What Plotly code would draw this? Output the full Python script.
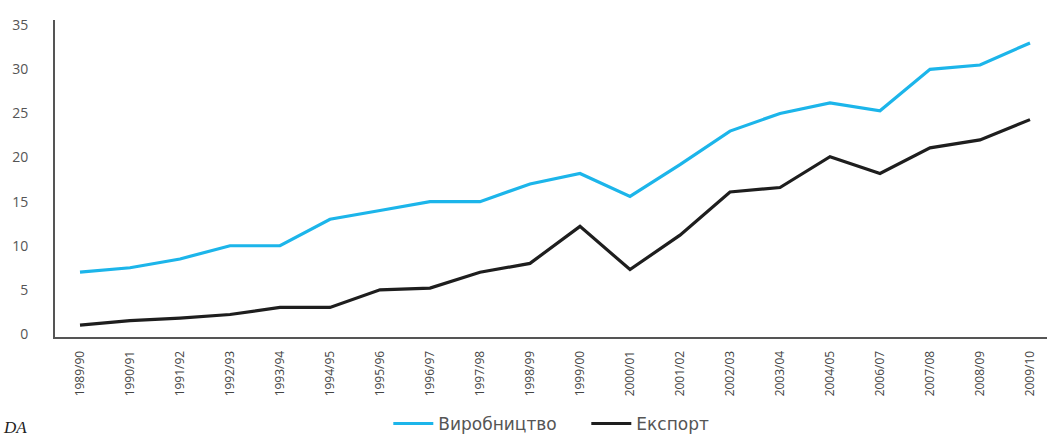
import plotly.graph_objects as go

seasons = ["1989/90", "1990/91", "1991/92", "1992/93", "1993/94", "1994/95",
           "1995/96", "1996/97", "1997/98", "1998/99", "1999/00", "2000/01",
           "2001/02", "2002/03", "2003/04", "2004/05", "2006/07", "2007/08",
           "2008/09", "2009/10"]
production = [7.0, 7.5, 8.5, 10.0, 10.0, 13.0, 14.0, 15.0, 15.0, 17.0, 18.2, 15.6,
              19.2, 23.0, 25.0, 26.2, 25.3, 30.0, 30.5, 33.0]
export = [1.0, 1.5, 1.8, 2.2, 3.0, 3.0, 5.0, 5.2, 7.0, 8.0, 12.2, 7.3,
          11.2, 16.1, 16.6, 20.1, 18.2, 21.1, 22.0, 24.3]
series_names = ["Виробництво", "Експорт"]
tick_vals = [0, 5, 10, 15, 20, 25, 30, 35]

fig = go.Figure()
fig.add_trace(go.Scatter(x=list(range(len(seasons))), y=production, mode="lines",
                         name=series_names[0], line=dict(color="#1cb5ea", width=3.2)))
fig.add_trace(go.Scatter(x=list(range(len(seasons))), y=export, mode="lines",
                         name=series_names[1], line=dict(color="#1e1e1e", width=3.2)))

fig.update_layout(
    width=1047, height=442,
    margin=dict(l=55, r=0, t=20, b=105),
    paper_bgcolor="white", plot_bgcolor="white",
    font=dict(family="Open Sans, DejaVu Sans, sans-serif", color="#555555"),
    showlegend=True,
    legend=dict(orientation="h", x=0.336, xanchor="left", y=-0.331, yanchor="bottom",
                font=dict(size=17, color="#555555", family="DejaVu Sans, sans-serif"),
                itemwidth=40, tracegroupgap=0, bgcolor="rgba(0,0,0,0)",
                entrywidth=143, entrywidthmode="pixels"),
    xaxis=dict(range=[-0.5, 19.34], tickmode="array",
               tickvals=list(range(len(seasons))), ticktext=seasons,
               tickangle=-90, tickfont=dict(size=12, color="#444444"),
               showgrid=False, zeroline=False, showline=True, automargin=False,
               linecolor="#555555", linewidth=2, ticks="", ticklabelstandoff=7),
    yaxis=dict(range=[-0.35, 35.6], tickmode="array", tickvals=tick_vals,
               tickfont=dict(size=14, color="#555555"), automargin=False,
               showgrid=False, zeroline=False, showline=True,
               linecolor="#555555", linewidth=2, ticks="", ticklabelstandoff=22),
    annotations=[dict(text="<i>DA</i>", xref="paper", yref="paper",
                      x=-0.054, y=-0.285, xanchor="left", yanchor="middle",
                      showarrow=False,
                      font=dict(family="Liberation Serif, serif", size=17, color="#222222"))],
)

fig.write_html("out.html", config={"displayModeBar": False},
               post_script="document.body.style.margin='0';document.body.style.overflow='hidden';")
